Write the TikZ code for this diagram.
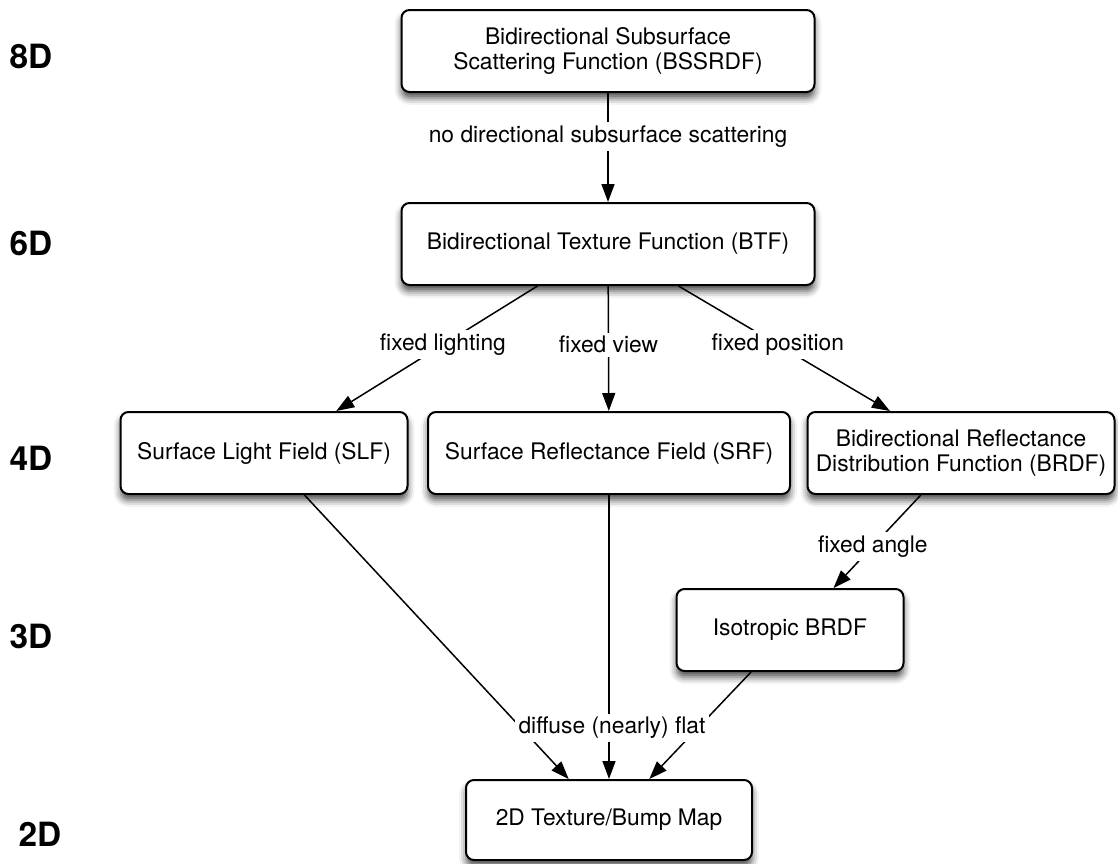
\documentclass[tikz,border=0pt]{standalone}
\usepackage{fontspec}
\setmainfont{TeX Gyre Heros}
\usetikzlibrary{shadows.blur}
\usetikzlibrary{arrows.meta}
\usetikzlibrary{calc}
\tikzstyle{block}=[draw=black, line width=1pt, rounded corners=4pt, fill=white, align=center, inner sep=0pt, font=\fontsize{11.4}{12.5}\selectfont, blur shadow={shadow xshift=0pt, shadow yshift=-3pt, shadow blur radius=3.5pt, shadow opacity=70}]
\tikzstyle{edge} = [draw, line width=0.75pt, -{Triangle[length=9pt,width=6.5pt]}]
\tikzstyle{weight} = [fill=white, inner sep=1.8pt, font=\fontsize{11.4}{12.5}\selectfont]
\tikzstyle{dimlabel} = [font=\fontsize{16.7}{20}\selectfont\bfseries]

\begin{document}
\begin{tikzpicture}[x=0.5pt, y=-0.5pt]

  \useasboundingbox (0,0) rectangle (1118,863);

  % dimension of each row
  \foreach \x/\y/\label in {31/56/8D, 31/243/6D, 31/458/4D, 31/636/3D, 40/834/2D}
     \node[dimlabel] (dim\label) at (\x, \y) {\label};

  % the representations
  \foreach \x/\y/\w/\name/\label in {608/51/206.5/bssrdf/{Bidirectional Subsurface\\Scattering Function (BSSRDF)},
        608/244/206.5/btf/{Bidirectional Texture Function (BTF)},
        264/453/143.5/slf/{Surface Light Field (SLF)},
        609/453/181/srf/{Surface Reflectance Field (SRF)},
        961/453/153.5/brdf/{Bidirectional Reflectance\\Distribution Function (BRDF)},
        790/630/113.5/iso/{Isotropic BRDF}}
     \node[block, minimum width=\w pt, minimum height=41pt] (\name) at (\x, \y) {\label};
  \node[block, minimum width=143pt, minimum height=40pt] (tex) at (609, 820) {2D Texture/Bump Map};

  \draw[edge] (bssrdf) -- node[weight, pos=0.4] {no directional subsurface scattering} (btf);
  \draw[edge] ($(btf.south west)!0.33!(btf.south east)$) -- node[weight, pos=0.47] {fixed lighting} ($(slf.north west)!0.75!(slf.north east)$);
  \draw[edge] (btf) -- node[weight, pos=0.47] {fixed view} (srf);
  \draw[edge] ($(btf.south west)!0.67!(btf.south east)$) -- node[weight, pos=0.47] {fixed position} ($(brdf.north west)!0.27!(brdf.north east)$);
  \draw[edge] ($(brdf.south west)!0.37!(brdf.south east)$) -- node[weight, pos=0.55] {fixed angle} ($(iso.north west)!0.69!(iso.north east)$);

  % everything ends in the flat texture
  \draw[edge] ($(slf.south west)!0.64!(slf.south east)$) -- ($(tex.north west)!0.36!(tex.north east)$);
  \draw[edge] ($(iso.south west)!0.33!(iso.south east)$) -- ($(tex.north west)!0.64!(tex.north east)$);
  \draw[edge] (srf) -- (tex);
  \node[weight] (flat) at (612, 728) {diffuse (nearly) flat};

\end{tikzpicture}
\end{document}
